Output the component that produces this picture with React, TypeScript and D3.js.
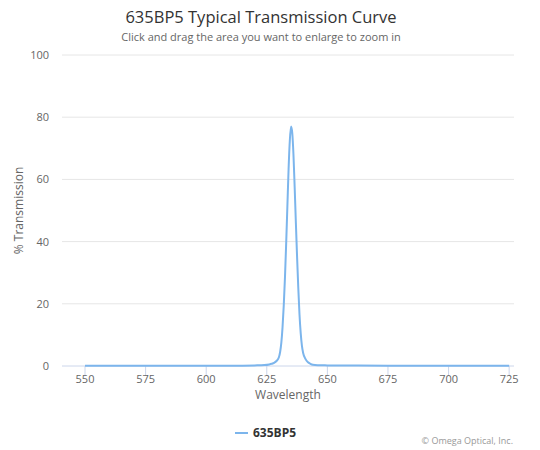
import * as d3 from 'd3'
import React from 'react'

// wavelength (nm) and % transmission
const wavelengths = [
  550, 560, 570, 580, 590, 600, 610, 620, 624, 626, 627, 628, 629, 630, 630.5, 631, 631.5, 632,
  632.5, 633, 633.5, 634, 634.5, 635, 635.5, 636, 636.5, 637, 637.5, 638, 638.5, 639, 639.5, 640,
  641, 642, 643, 644, 646, 650, 660, 675, 700, 725,
]
const transmission = [
  0.1, 0.1, 0.1, 0.1, 0.1, 0.1, 0.1, 0.2, 0.3, 0.5, 0.7, 1.0, 1.6, 2.8, 4.5, 7.5, 12.5, 19.5, 28.5,
  39.5, 51.5, 63.5, 72.5, 77, 75, 68, 57.5, 46, 35, 25, 16.5, 10.5, 6.5, 4.2, 2.2, 1.2, 0.7, 0.4,
  0.25, 0.2, 0.15, 0.1, 0.1, 0.1,
]
const xTicks = [550, 575, 600, 625, 650, 675, 700, 725]
const yTicks = [0, 20, 40, 60, 80, 100]
const seriesName = '635BP5'

const W = 540
const H = 450
const plot = { left: 62, right: 514, top: 55, bottom: 366 }
const font = '"Open Sans", "Lucida Grande", sans-serif'

export default function App() {
  const x = d3.scaleLinear().domain([540.5, 727]).range([plot.left, plot.right])
  const y = d3.scaleLinear().domain([0, 100]).range([plot.bottom, plot.top])

  const points: [number, number][] = wavelengths.map((w, i) => [w, transmission[i]])
  const line = d3
    .line<[number, number]>()
    .x(d => x(d[0]))
    .y(d => y(d[1]))
    .curve(d3.curveMonotoneX)

  return (
    <svg
      width={W}
      height={H}
      style={{ position: 'absolute', left: 0, top: 0, fontFamily: font }}
    >
      <rect width={W} height={H} fill="#fff" />
      <text x={W / 2 - 9} y={23} textAnchor="middle" fontSize={16.5} fill="#333">
        635BP5 Typical Transmission Curve
      </text>
      <text x={W / 2 - 9} y={41} textAnchor="middle" fontSize={11} fill="#666">
        Click and drag the area you want to enlarge to zoom in
      </text>

      {/* grid + y labels */}
      {yTicks.map(t => (
        <g key={t}>
          {t > 0 && (
            <line x1={plot.left} x2={plot.right} y1={y(t)} y2={y(t)} stroke="#e6e6e6" />
          )}
          <text x={49} y={y(t) + 4} textAnchor="end" fontSize={11} fill="#666">
            {t}
          </text>
        </g>
      ))}

      {/* x axis */}
      <line x1={plot.left} x2={plot.right} y1={plot.bottom} y2={plot.bottom} stroke="#ccd6eb" />
      {xTicks.map(t => (
        <g key={t}>
          <line x1={x(t)} x2={x(t)} y1={plot.bottom} y2={plot.bottom + 10} stroke="#ccd6eb" />
          <text x={x(t)} y={plot.bottom + 17} textAnchor="middle" fontSize={11} fill="#666">
            {t}
          </text>
        </g>
      ))}
      <text
        x={(plot.left + plot.right) / 2}
        y={399}
        textAnchor="middle"
        fontSize={12}
        fill="#666"
      >
        Wavelength
      </text>
      <text
        transform={`translate(23, ${(plot.top + plot.bottom) / 2}) rotate(-90)`}
        textAnchor="middle"
        fontSize={12}
        fill="#666"
      >
        % Transmission
      </text>

      <path d={line(points) ?? ''} fill="none" stroke="#7cb5ec" strokeWidth={2} />

      {/* legend */}
      <line x1={235} x2={248} y1={433} y2={433} stroke="#7cb5ec" strokeWidth={2} />
      <text x={253} y={437} fontSize={12} fontWeight="bold" fill="#333">
        {seriesName}
      </text>
      <text x={513} y={444} textAnchor="end" fontSize={9} fill="#999">
        © Omega Optical, Inc.
      </text>
    </svg>
  )
}
